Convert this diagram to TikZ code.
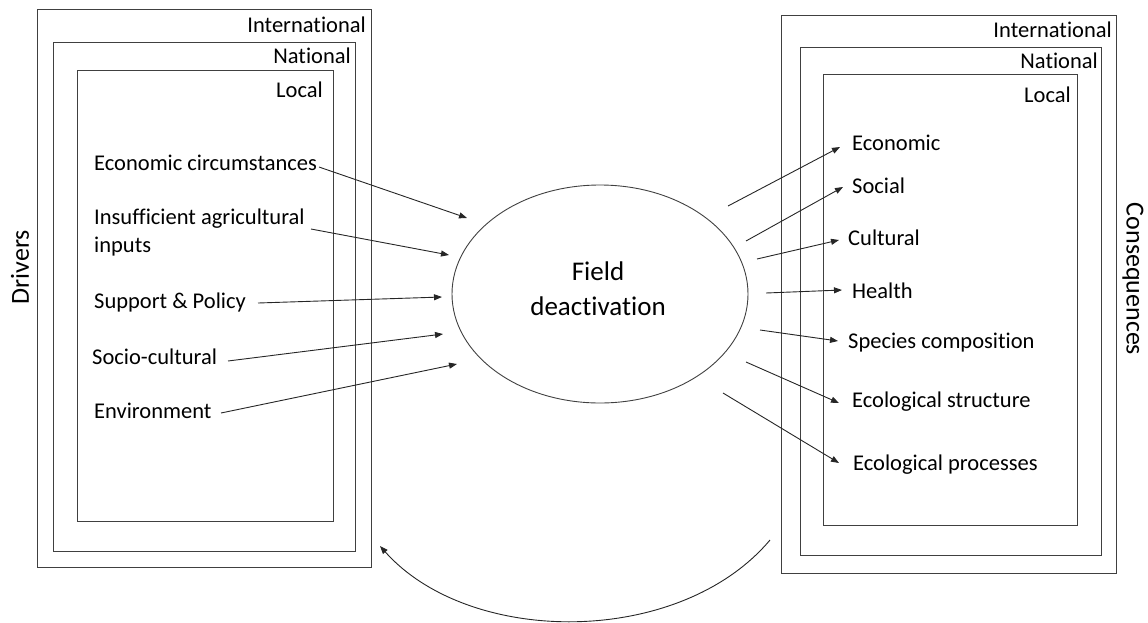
\documentclass[tikz,border=0pt]{standalone}
\usepackage{fontspec}
\setmainfont{Carlito}[Ligatures=NoCommon]
\usetikzlibrary{arrows.meta,shapes.geometric}
\begin{document}
\begin{tikzpicture}[x=1pt,y=-1pt,
  box/.style={draw=black!75,line width=0.9pt},
  lbl/.style={font=\fontsize{22.5}{28}\selectfont,inner sep=0pt,anchor=base west},
  scl/.style={font=\fontsize{22.5}{28}\selectfont,inner sep=0pt,anchor=base east},
  side/.style={font=\fontsize{26}{30}\selectfont,inner sep=0pt},
  arr/.style={draw=black!85,line width=0.9pt,-{Triangle[length=8pt,width=6pt]}}]
\useasboundingbox (0,0) rectangle (1148,622);

% left boxes
\draw[box] (37,9) rectangle (371,567);
\draw[box] (53,42) rectangle (355,551);
\draw[box] (77,70) rectangle (333,521);
\node[scl] (lint) at (366,32) {International};
\node[scl] (lnat) at (351,63) {National};
\node[scl] (lloc) at (323,97) {Local};

% right boxes
\draw[box] (781,15) rectangle (1116,573);
\draw[box] (800,47) rectangle (1101,555);
\draw[box] (823,74) rectangle (1077,525);
\node[scl] (rint) at (1112,37) {International};
\node[scl] (rnat) at (1098,68) {National};
\node[scl] (rloc) at (1071,102) {Local};

% side labels
\node[side,rotate=90] (drv) at (20,267) {Drivers};
\node[side,rotate=-90] (cons) at (1133,279) {Consequences};

% central ellipse
\node[draw=black!75,line width=0.9pt,ellipse,minimum width=296pt,minimum height=218pt,inner sep=0pt] (fd) at (600,294) {};
\node[font=\fontsize{27}{35}\selectfont,align=center,inner sep=0pt] (fdt) at (598,289) {Field\\deactivation};

% drivers
\node[lbl] (d1) at (94,170) {Economic circumstances};
\node[lbl,anchor=west,align=left] (d2) at (94,232) {Insufficient agricultural\\inputs};
\node[lbl] (d3) at (94,308) {Support \& Policy};
\node[lbl] (d4) at (92,364) {Socio-cultural};
\node[lbl] (d5) at (94,418) {Environment};

\coordinate (d1s) at (319,167); \coordinate (d1e) at (467,218);
\coordinate (d2s) at (311,229); \coordinate (d2e) at (449,255);
\coordinate (d3s) at (258,303); \coordinate (d3e) at (442,297);
\coordinate (d4s) at (228,361); \coordinate (d4e) at (443,334);
\coordinate (d5s) at (221,413); \coordinate (d5e) at (457,364);
\draw[arr] (d1s) -- (d1e);
\draw[arr] (d2s) -- (d2e);
\draw[arr] (d3s) -- (d3e);
\draw[arr] (d4s) -- (d4e);
\draw[arr] (d5s) -- (d5e);

% consequences
\node[lbl] (c1) at (852,150) {Economic};
\node[lbl] (c2) at (852,193) {Social};
\node[lbl] (c3) at (848,245) {Cultural};
\node[lbl] (c4) at (852,298) {Health};
\node[lbl] (c5) at (848,348) {Species composition};
\node[lbl] (c6) at (852,407) {Ecological structure};
\node[lbl] (c7) at (853,470) {Ecological processes};

\coordinate (c1s) at (728,206); \coordinate (c1e) at (840,147);
\coordinate (c2s) at (746,241); \coordinate (c2e) at (843,187);
\coordinate (c3s) at (757,259); \coordinate (c3e) at (839,240);
\coordinate (c4s) at (766,293); \coordinate (c4e) at (842,290);
\coordinate (c5s) at (760,330); \coordinate (c5e) at (838,341);
\coordinate (c6s) at (746,362); \coordinate (c6e) at (839,403);
\coordinate (c7s) at (723,393); \coordinate (c7e) at (839,463);
\draw[arr] (c1s) -- (c1e);
\draw[arr] (c2s) -- (c2e);
\draw[arr] (c3s) -- (c3e);
\draw[arr] (c4s) -- (c4e);
\draw[arr] (c5s) -- (c5e);
\draw[arr] (c6s) -- (c6e);
\draw[arr] (c7s) -- (c7e);

% feedback arc
\coordinate (fbs) at (770,540);
\coordinate (fbe) at (380,546);
\draw[arr] (fbs) .. controls (680,647) and (470,647) .. (fbe);
\end{tikzpicture}
\end{document}
